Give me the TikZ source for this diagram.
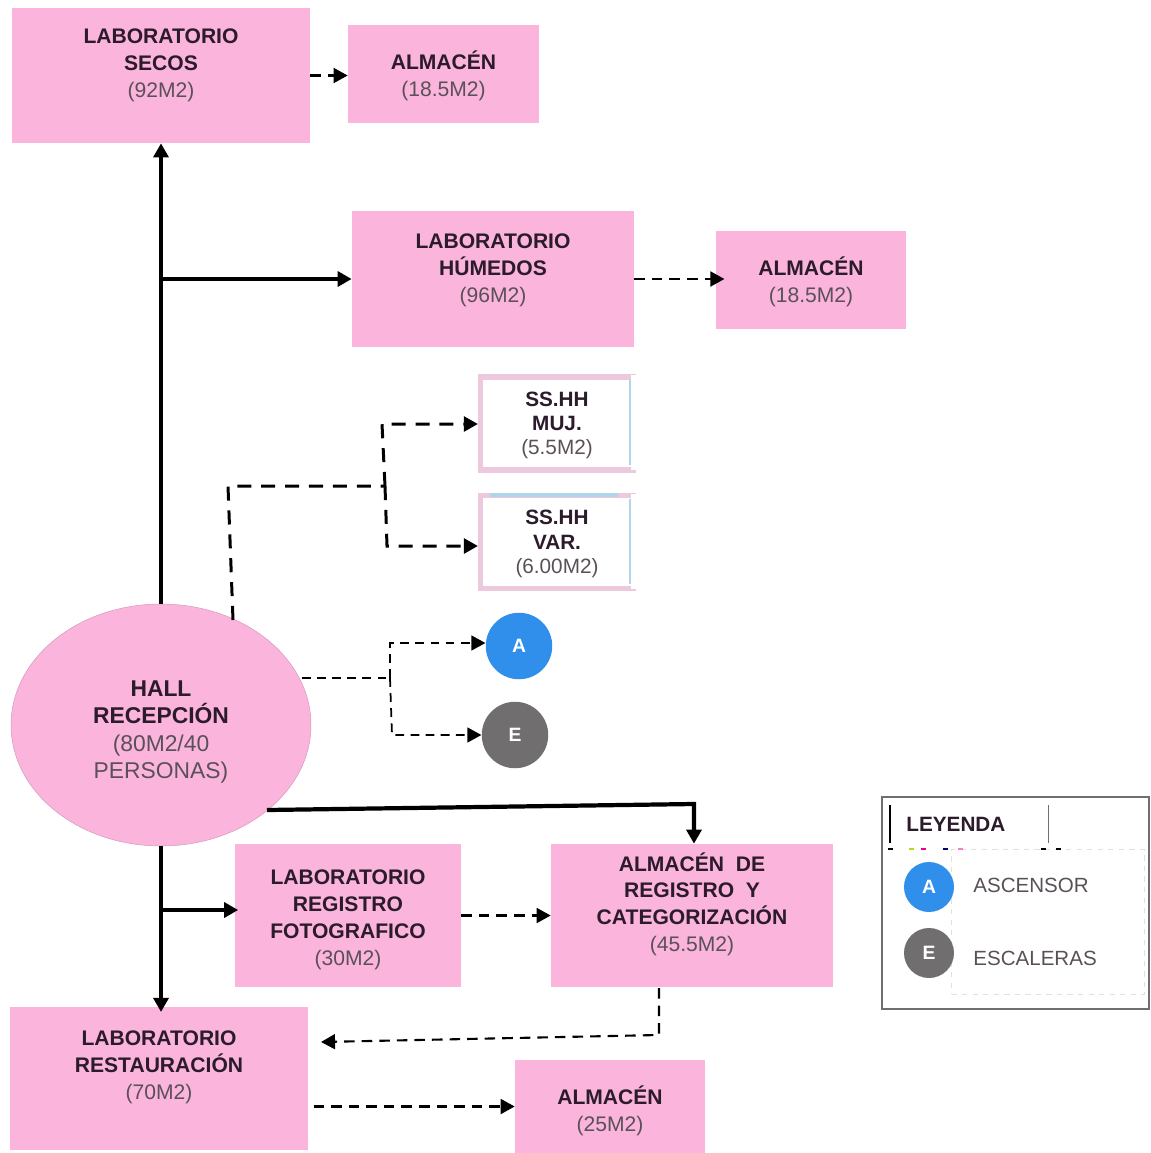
\documentclass[tikz,border=0pt]{standalone}
\usepackage{fontspec}
\setmainfont{Liberation Sans}
\usepackage{xcolor}
\usetikzlibrary{arrows.meta}
\definecolor{roompink}{HTML}{FBB5DC}
\definecolor{wcpink}{HTML}{EDC9DD}
\definecolor{wcblue}{HTML}{B0D4EC}
\definecolor{titlecol}{HTML}{2B1B2B}
\definecolor{areacol}{HTML}{5A5058}
\definecolor{liftblue}{HTML}{2F8FEA}
\definecolor{stairgrey}{HTML}{706E6E}
\newcommand{\nm}[1]{{\bfseries\color{titlecol}#1}}
\newcommand{\ar}[1]{{\color{areacol}#1}}
\newcommand{\dn}[1]{\rule{0pt}{#1}}
\tikzset{
	>={Triangle[length=8pt,width=8.5pt]},
	roombox/.style={fill=roompink, inner sep=0pt, align=center, font=\fontsize{12}{15.3}\selectfont},
	wcbox/.style={fill=white, draw=wcpink, line width=3pt, inner sep=0pt, align=center, font=\fontsize{11.8}{13.8}\selectfont},
	hallshape/.style={ellipse, fill=roompink, draw=roompink!85!black, line width=0.3pt, inner sep=0pt, align=center, font=\fontsize{13}{15.6}\selectfont},
	dotbig/.style={circle, inner sep=0pt, minimum size=1.33cm, text=white, font=\fontsize{11}{13}\selectfont\bfseries},
	dotsmall/.style={circle, inner sep=0pt, minimum size=1cm, text=white, font=\fontsize{11}{13}\selectfont\bfseries},
	keytext/.style={inner sep=0pt, anchor=west, text=areacol, font=\fontsize{11.7}{13}\selectfont},
	mainline/.style={->, line width=2pt},
	thickdash/.style={line width=1.7pt, dash pattern=on 8pt off 5.6pt},
	meddash/.style={->, line width=1.2pt, dash pattern=on 6pt off 4pt},
	thindash/.style={line width=1pt, dash pattern=on 5pt off 3.6pt}
}
\usetikzlibrary{shapes.geometric}
\begin{document}
\begin{tikzpicture}[x=0.02cm,y=-0.02cm]
	\useasboundingbox (0,0) rectangle (1150,1153);

	\node[roombox, minimum width=5.96cm, minimum height=2.7cm] (secos) at (161,75.5) {\nm{LABORATORIO}\\\nm{SECOS}\\\ar{(92M2)}\\[-1.5pt]~};
	\node[roombox, minimum width=3.82cm, minimum height=1.96cm] (almsecos) at (443.5,74) {\dn{12.5pt}\nm{ALMACÉN}\\\ar{(18.5M2)}};
	\node[roombox, minimum width=5.64cm, minimum height=2.72cm] (humedos) at (493,279) {\nm{LABORATORIO}\\\nm{HÚMEDOS}\\\ar{(96M2)}\\[-3pt]~};
	\node[roombox, minimum width=3.8cm, minimum height=1.96cm] (almhumedos) at (811,280) {\dn{12.5pt}\nm{ALMACÉN}\\\ar{(18.5M2)}};
	\node[wcbox, minimum width=3.06cm, minimum height=1.86cm] (muj) at (557,423.5) {\dn{10.5pt}\nm{SS.HH}\\\nm{MUJ.}\\\ar{(5.5M2)}};
	\node[wcbox, minimum width=3.06cm, minimum height=1.86cm] (var) at (557,542) {\dn{10.5pt}\nm{SS.HH}\\\nm{VAR.}\\\ar{(6.00M2)}};
	\node[hallshape, minimum width=6cm, minimum height=4.84cm] (hall) at (161,725) {\dn{17pt}\nm{HALL}\\\nm{RECEPCIÓN}\\\ar{(80M2/40}\\\ar{PERSONAS)}};
	\node[dotbig, fill=liftblue] (lift) at (519,646) {A};
	\node[dotbig, fill=stairgrey] (stair) at (515,735) {E};
	\node[roombox, minimum width=4.52cm, minimum height=2.86cm] (foto) at (348,915.5) {\dn{13pt}\nm{LABORATORIO}\\\nm{REGISTRO}\\\nm{FOTOGRAFICO}\\\ar{(30M2)}};
	\node[roombox, minimum width=5.64cm, minimum height=2.86cm] (almreg) at (692,915.5) {\nm{ALMACÉN\ \ DE}\\\nm{REGISTRO\ \ Y}\\\nm{CATEGORIZACIÓN}\\\ar{(45.5M2)}\\~};
	\node[roombox, minimum width=5.96cm, minimum height=2.86cm] (resta) at (159,1078.5) {\nm{LABORATORIO}\\\nm{RESTAURACIÓN}\\\ar{(70M2)}\\~};
	\node[roombox, minimum width=3.8cm, minimum height=1.86cm] (almresta) at (610,1106.5) {\dn{15.5pt}\nm{ALMACÉN}\\\ar{(25M2)}};

	% blue edges of the wc boxes
	\draw[wcblue, line width=0.8pt] (630,380) -- (630,465);
	\draw[wcblue, line width=0.8pt] (630,499) -- (630,584);
	\draw[wcblue, line width=2.4pt] (490,495) -- (618,495);
	\draw[white, line width=3pt] (633.5,375) -- (633.5,470);
	\draw[white, line width=3pt] (633.5,494) -- (633.5,589);

	\coordinate (hallnw) at (233,620);
	\coordinate (bendnw) at (228,486);
	\coordinate (fork) at (385,486);
	\coordinate (forkup) at (382,424);
	\coordinate (forkdown) at (387,546);
	\coordinate (halle) at (302,678);
	\coordinate (forkb) at (390,678);
	\coordinate (forkbup) at (390,643);
	\coordinate (forkbdown) at (392,735);
	\coordinate (hallse) at (267,810);
	\coordinate (bendreg) at (694,804);
	\coordinate (regout) at (659,988);
	\coordinate (bendres) at (659,1035);
	\coordinate (resin) at (321,1042);

	\draw[mainline] (hall.north) -- (secos.south);
	\coordinate (branchhum) at (hall.north |- humedos.west);
	\draw[mainline] (branchhum) -- (humedos.west);
	\draw[mainline] (hall.south) -- ([yshift=-3pt]hall.south |- resta.north);
	\coordinate (branchfoto) at (161,910);
	\draw[mainline, shorten >=-2pt] (branchfoto) -- (foto.west |- branchfoto);
	\draw[->, line width=2.4pt] (hallse) -- (bendreg) -- (bendreg |- almreg.north);

	\draw[meddash] (secos.east) -- (almsecos.west |- secos.east);
	\draw[meddash, shorten >=-5pt] (humedos.east) -- (humedos.east -| almhumedos.west);
	\draw[meddash] (foto.east) -- (almreg.west);
	\draw[meddash] (regout) -- (bendres) -- (resin);
	\draw[meddash, shorten <=3pt] (resta.east |- almresta.west) -- (almresta.west);

	\draw[thickdash] (hallnw) -- (bendnw) -- (fork);
	\draw[thickdash, ->] (fork) -- (forkup) -- (forkup -| muj.west);
	\draw[thickdash, ->] (fork) -- (forkdown) -- (forkdown -| var.west);

	\draw[thindash] (halle) -- (forkb);
	\draw[thindash, ->] (forkb) -- (forkbup) -- (forkbup -| lift.west);
	\draw[thindash, ->] (forkb) -- (forkbdown) -- (stair.west);

	% legend
	\node[draw=stairgrey, line width=1.1pt, inner sep=0pt, minimum width=5.34cm, minimum height=4.24cm] (keybox) at (1015.5,903) {};
	\node[draw=black!12, line width=0.5pt, dashed, inner sep=0pt, minimum width=3.86cm, minimum height=2.9cm] (keyinner) at (1048,922) {};
	\node[inner sep=0pt, anchor=west, font=\fontsize{11.8}{13}\selectfont\bfseries, text=titlecol] (keytitle) at (906,824) {LEYENDA};
	\coordinate (titlenw) at (890,805);
	\coordinate (titlesw) at (890,843);
	\coordinate (titlene) at (1048,805);
	\coordinate (titlese) at (1048,843);
	\draw[black, line width=0.8pt] (titlenw) -- (titlesw);
	\draw[stairgrey, line width=0.5pt] (titlene) -- (titlese);
	\foreach \tickx/\tickcol in {888/black, 909/yellow!70!green, 921/magenta, 943/blue!50!black, 958/magenta!50, 1041/black, 1056/black} {
		\draw[\tickcol, line width=0.8pt] (\tickx,849) -- ++(5,0);
	}
	\node[dotsmall, fill=liftblue] (keylift) at (929,887) {A};
	\node[dotsmall, fill=stairgrey] (keystair) at (929,953) {E};
	\node[keytext] (keyliftt) at (973,885) {ASCENSOR};
	\node[keytext] (keystairt) at (973,958) {ESCALERAS};
\end{tikzpicture}
\end{document}
